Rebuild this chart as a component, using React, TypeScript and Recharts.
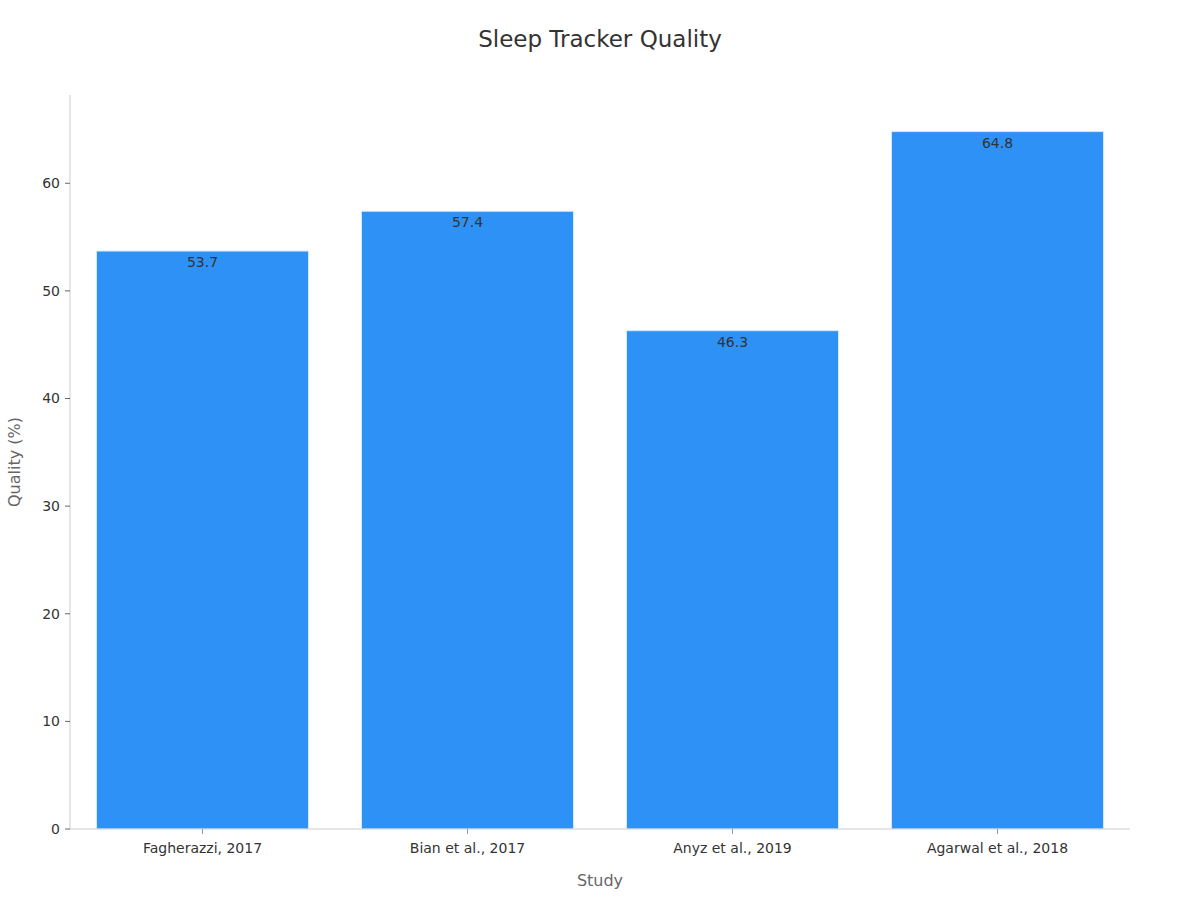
import { BarChart, Bar, XAxis, YAxis, LabelList, Label } from "recharts";

const studies = ["Fagherazzi, 2017", "Bian et al., 2017", "Anyz et al., 2019", "Agarwal et al., 2018"];
const quality = [53.7, 57.4, 46.3, 64.8];
const yTicks = [0, 10, 20, 30, 40, 50, 60];

const data = studies.map((s, i) => ({ study: s, quality: quality[i] }));

const FONT = "'DejaVu Sans', sans-serif";

export default function App() {
  return (
    <div style={{ position: "absolute", left: 0, top: 0, width: 1200, height: 900, background: "#fff", fontFamily: FONT }}>
      <div style={{ position: "absolute", top: 26, width: 1200, textAlign: "center", fontSize: 23, color: "#333" }}>
        Sleep Tracker Quality
      </div>
      <BarChart
        width={1200}
        height={900}
        data={data}
        margin={{ top: 95, right: 70, bottom: 0, left: 0 }}
        barCategoryGap="10%"
      >
        <XAxis
          dataKey="study"
          stroke="#ccc"
          tickLine={{ stroke: "#999" }}
          tickSize={5}
          tickMargin={9}
          tick={{ fill: "#333", fontSize: 14, fontFamily: FONT }}
          height={71}
        >
          <Label value="Study" position="insideBottom" offset={14} fill="#666" fontSize={16} fontFamily={FONT} />
        </XAxis>
        <YAxis
          domain={[0, 68.2]}
          ticks={yTicks}
          stroke="#ccc"
          tickLine={{ stroke: "#666" }}
          tickSize={5}
          tickMargin={5}
          tick={{ fill: "#333", fontSize: 14, fontFamily: FONT }}
          width={70}
          allowDataOverflow
        >
          <Label value="Quality (%)" angle={-90} position="insideLeft" offset={14} fill="#666" fontSize={16} fontFamily={FONT} style={{ textAnchor: "middle" }} />
        </YAxis>
        <Bar dataKey="quality" fill="#2E91F5" stroke="#d6e8fb" strokeWidth={1} isAnimationActive={false}>
          <LabelList dataKey="quality" position="insideTop" offset={6} fill="#333" fontSize={14} fontFamily={FONT} />
        </Bar>
      </BarChart>
    </div>
  );
}
